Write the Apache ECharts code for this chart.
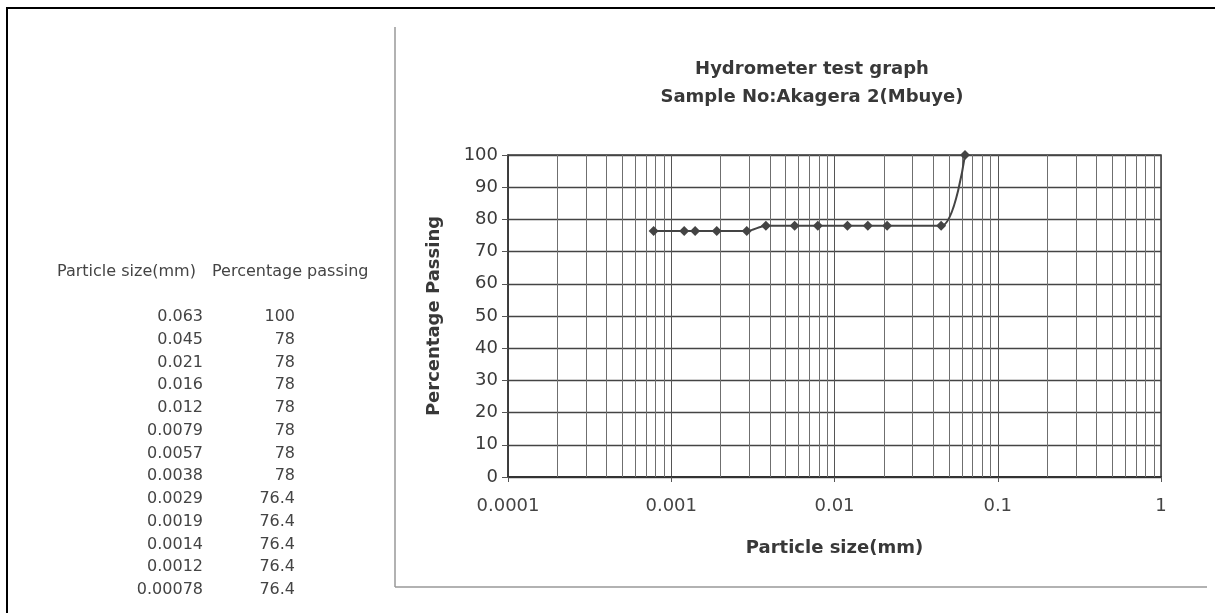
<!DOCTYPE html>
<html>
<head>
<meta charset="utf-8">
<script src="https://cdn.jsdelivr.net/npm/echarts@6/dist/echarts.min.js"></script>
<style>
  html, body { margin: 0; padding: 0; background: #fff; }
  #chart { position: absolute; left: 0; top: 0; width: 1215px; height: 613px; }
</style>
</head>
<body>
<div id="chart"></div>
<script>
// ---- data ----
var particleSize = [0.063, 0.045, 0.021, 0.016, 0.012, 0.0079, 0.0057, 0.0038, 0.0029, 0.0019, 0.0014, 0.0012, 0.00078];
var particleSizeText = ['0.063', '0.045', '0.021', '0.016', '0.012', '0.0079', '0.0057', '0.0038', '0.0029', '0.0019', '0.0014', '0.0012', '0.00078'];
var percentPassing = [100, 78, 78, 78, 78, 78, 78, 78, 76.4, 76.4, 76.4, 76.4, 76.4];
var percentPassingText = ['100', '78', '78', '78', '78', '78', '78', '78', '76.4', '76.4', '76.4', '76.4', '76.4'];
var xTickLabels = ['0.0001', '0.001', '0.01', '0.1', '1'];
var decades = [0.0001, 0.001, 0.01, 0.1];
var minorMultipliers = [2, 3, 4, 5, 6, 7, 8, 9];
var titleLines = ['Hydrometer test graph', 'Sample No:Akagera 2(Mbuye)'];
var tableHeaders = ['Particle size(mm)', 'Percentage passing'];

// ---- build ----
var FONT = '"DejaVu Sans", "Liberation Sans", Arial, sans-serif';
var points = [];
for (var i = particleSize.length - 1; i >= 0; i--) points.push([particleSize[i], percentPassing[i]]);

var minorValues = [];
decades.forEach(function (d) {
  minorMultipliers.forEach(function (m) {
    minorValues.push([parseFloat((m * d).toPrecision(3)), 0]);
  });
});

var textColor = '#444';
var tableFont = '16px ' + FONT;
var graphics = [
  // outer frame
  { type: 'line', shape: { x1: 6, y1: 8, x2: 1215, y2: 8 }, style: { stroke: '#000', lineWidth: 2 } },
  { type: 'line', shape: { x1: 7, y1: 8, x2: 7, y2: 613 }, style: { stroke: '#000', lineWidth: 2 } },
  // chart box
  { type: 'line', shape: { x1: 395, y1: 27, x2: 395, y2: 587 }, style: { stroke: '#999', lineWidth: 1.5 } },
  { type: 'line', shape: { x1: 395, y1: 587, x2: 1207, y2: 587 }, style: { stroke: '#999', lineWidth: 1.5 } },
  // table headers
  { type: 'text', x: 57, y: 272, style: { text: tableHeaders[0], fill: textColor, font: tableFont, textVerticalAlign: 'middle' } },
  { type: 'text', x: 212, y: 272, style: { text: tableHeaders[1], fill: textColor, font: tableFont, textVerticalAlign: 'middle' } }
];
for (var r = 0; r < particleSizeText.length; r++) {
  var yy = 317 + r * 22.75;
  graphics.push({ type: 'text', x: 203, y: yy, style: { text: particleSizeText[r], fill: textColor, font: tableFont, textAlign: 'right', textVerticalAlign: 'middle' } });
  graphics.push({ type: 'text', x: 295, y: yy, style: { text: percentPassingText[r], fill: textColor, font: tableFont, textAlign: 'right', textVerticalAlign: 'middle' } });
}

var chart = echarts.init(document.getElementById('chart'), null, { renderer: 'canvas' });
chart.setOption({
  animation: false,
  backgroundColor: '#fff',
  title: {
    text: titleLines.join('\n'),
    left: 807,
    top: 50,
    textAlign: 'center',
    textStyle: { fontSize: 18, fontWeight: 'bold', color: '#383838', lineHeight: 28, fontFamily: FONT }
  },
  grid: { left: 508, top: 155, width: 653, height: 322, show: true, borderColor: '#3a3a3a', borderWidth: 1.5, backgroundColor: 'transparent' },
  xAxis: {
    type: 'log',
    logBase: 10,
    min: 0.0001,
    max: 1,
    name: 'Particle size(mm)',
    nameLocation: 'middle',
    nameGap: 62,
    nameTextStyle: { fontSize: 18, fontWeight: 'bold', color: '#383838', fontFamily: FONT },
    axisLine: { show: true, lineStyle: { color: '#333', width: 2 } },
    axisTick: { show: true, length: 5, lineStyle: { color: '#555' } },
    axisLabel: {
      margin: 20, fontSize: 18, color: '#444', fontFamily: FONT,
      formatter: function (v, idx) { return xTickLabels[idx] !== undefined ? xTickLabels[idx] : ''; }
    },
    splitLine: { show: true, lineStyle: { color: '#555', width: 1 } }
  },
  yAxis: {
    type: 'value',
    min: 0,
    max: 100,
    interval: 10,
    name: 'Percentage Passing',
    nameLocation: 'middle',
    nameGap: 65,
    nameTextStyle: { fontSize: 18, fontWeight: 'bold', color: '#383838', fontFamily: FONT },
    axisLine: { show: true, lineStyle: { color: '#333', width: 1.5 } },
    axisTick: { show: true, length: 6, lineStyle: { color: '#555' } },
    axisLabel: { margin: 10, fontSize: 18, color: '#3a3a3a', fontFamily: FONT },
    splitLine: { show: true, lineStyle: { color: '#444', width: 1.3 } }
  },
  graphic: graphics,
  series: [
    {
      type: 'custom',
      data: minorValues,
      encode: { x: 0, y: 1 },
      silent: true,
      z: 1,
      renderItem: function (params, api) {
        var v = api.value(0);
        var top = api.coord([v, 100]);
        var bot = api.coord([v, 0]);
        return {
          type: 'line',
          shape: { x1: Math.round(top[0]) + 0.5, y1: top[1], x2: Math.round(bot[0]) + 0.5, y2: bot[1] },
          style: { stroke: '#6f6f6f', lineWidth: 1 }
        };
      }
    },
    {
      type: 'line',
      data: points,
      smooth: 0.3,
      symbol: 'diamond',
      symbolSize: 10,
      itemStyle: { color: '#444' },
      lineStyle: { color: '#444', width: 2 },
      z: 5
    }
  ]
});
</script>
</body>
</html>
